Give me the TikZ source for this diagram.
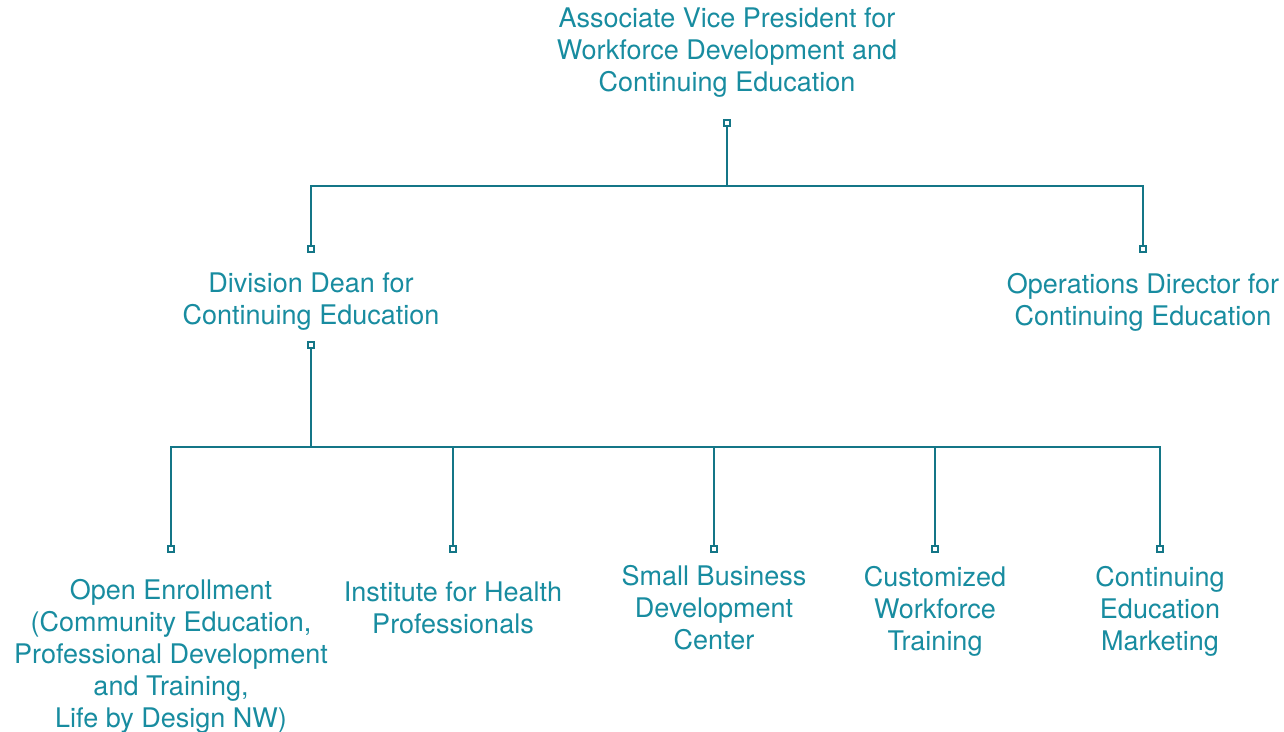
\documentclass[tikz,border=0pt]{standalone}
\usepackage{fontspec}
\setmainfont{TeX Gyre Heros}
\usepackage{tikz}

\definecolor{linecol}{RGB}{20,118,135}
\definecolor{textcol}{RGB}{24,140,160}

\tikzset{
  unit/.style={text=textcol, align=center, inner sep=0pt,
    font=\fontsize{13.5}{16}\selectfont},
  pin/.style={draw=linecol, fill=white, line width=1pt, rectangle,
    minimum size=3.4pt, inner sep=0pt},
  wire/.style={draw=linecol, line width=1pt}
}

\begin{document}
\begin{tikzpicture}[x=0.5pt,y=-0.5pt]
\useasboundingbox (0,0) rectangle (1284,732);
% top
\node [unit] (avp) at (727,53) {Associate Vice President for\\Workforce Development and\\Continuing Education};
\node [pin] (avp-pin) at (727,123) {};
\coordinate (bar1) at (727,186);
% second level
\node [pin] (dean-pin) at (311,249) {};
\node [unit] (dean) at (311,302) {Division Dean for\\Continuing Education};
\node [pin] (ops-pin) at (1143,249) {};
\node [unit] (ops) at (1143,302) {Operations Director for\\Continuing Education};
\node [pin] (dean-out) at (311,345) {};
\coordinate (bar2) at (311,447);
% bottom level
\node [pin] (open-pin) at (171,549) {};
\node [pin] (ihp-pin) at (453,549) {};
\node [pin] (sbdc-pin) at (714,549) {};
\node [pin] (cwt-pin) at (935,549) {};
\node [pin] (mkt-pin) at (1160,549) {};
\node [unit] (open) at (171,656) {Open Enrollment\\(Community Education,\\Professional Development\\and Training,\\Life by Design NW)};
\node [unit] (ihp) at (453,608) {Institute for Health\\Professionals};
\node [unit] (sbdc) at (714,608) {Small Business\\Development\\Center};
\node [unit] (cwt) at (935,611) {Customized\\Workforce\\Training};
\node [unit] (mkt) at (1160,611) {Continuing\\Education\\Marketing};
% wires
\draw [wire] (avp-pin) -- (bar1) -| (dean-pin);
\draw [wire] (bar1) -| (ops-pin);
\draw [wire] (dean-out) -- (bar2) -| (open-pin);
\draw [wire] (bar2) -| (mkt-pin);
\draw [wire] (ihp-pin) -- (ihp-pin |- bar2);
\draw [wire] (sbdc-pin) -- (sbdc-pin |- bar2);
\draw [wire] (cwt-pin) -- (cwt-pin |- bar2);
\end{tikzpicture}
\end{document}
